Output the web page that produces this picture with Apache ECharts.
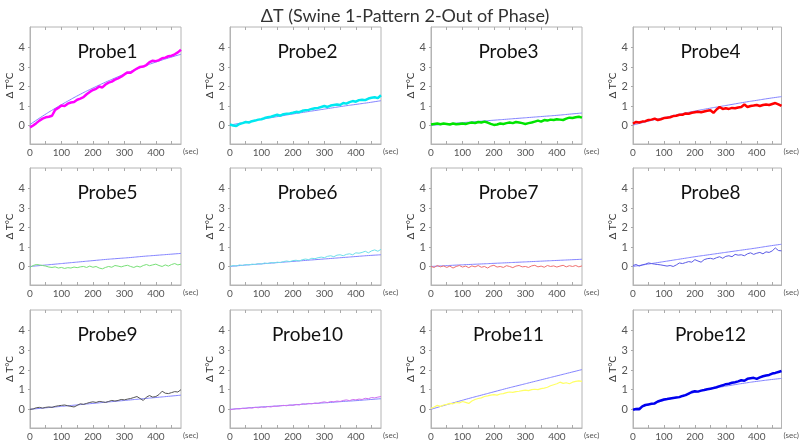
<!DOCTYPE html>
<html>
<head>
<meta charset="utf-8">
<script src="https://cdn.jsdelivr.net/npm/echarts@6/dist/echarts.min.js"></script>
<style>html,body{margin:0;padding:0;background:#fff}#c{width:800px;height:442px}</style>
</head>
<body>
<div id="c"></div>
<script>
const chartTitle = 'ΔT (Swine 1-Pattern 2-Out of Phase)';
const probeNames = ['Probe1','Probe2','Probe3','Probe4','Probe5','Probe6','Probe7','Probe8','Probe9','Probe10','Probe11','Probe12'];
const xTickLabels = [0,100,200,300,400];
const yTickLabels = [0,1,2,3,4];
const tSec = [0,10,20,30,40,50,60,70,80,90,100,110,120,130,140,150,160,170,180,190,200,210,220,230,240,250,260,270,280,290,300,310,320,330,340,350,360,370,380,390,400,410,420,430,440,450,460,470,480];
const tFit = [0,40,80,120,160,200,240,280,320,360,400,440,480];

const meas1 = [-0.1,0.0,0.12,0.25,0.35,0.42,0.45,0.5,0.8,0.9,1.02,1.0,1.12,1.18,1.2,1.32,1.38,1.45,1.6,1.72,1.82,1.88,2.0,1.95,2.1,2.2,2.25,2.35,2.42,2.5,2.62,2.72,2.7,2.82,2.92,3.0,3.02,3.1,3.25,3.32,3.3,3.35,3.45,3.48,3.55,3.58,3.65,3.75,3.88];
const meas2 = [0.05,0.0,-0.03,0.08,0.12,0.18,0.15,0.22,0.25,0.3,0.32,0.38,0.42,0.45,0.5,0.55,0.5,0.58,0.6,0.62,0.65,0.7,0.68,0.75,0.78,0.8,0.85,0.88,0.9,0.95,1.0,0.95,1.02,1.05,1.08,1.05,1.15,1.12,1.2,1.25,1.22,1.3,1.32,1.3,1.38,1.42,1.45,1.4,1.55];
const meas3 = [0.05,0.08,0.1,0.06,0.1,0.08,0.05,0.1,0.06,0.08,0.1,0.08,0.12,0.15,0.12,0.18,0.15,0.2,0.15,0.08,0.03,0.05,0.1,0.08,0.12,0.15,0.12,0.18,0.15,0.12,0.08,0.12,0.15,0.2,0.25,0.2,0.28,0.25,0.3,0.28,0.32,0.3,0.28,0.35,0.4,0.38,0.42,0.45,0.4];
const meas4 = [0.1,0.18,0.15,0.2,0.22,0.28,0.3,0.35,0.28,0.32,0.38,0.4,0.42,0.48,0.5,0.55,0.55,0.62,0.6,0.65,0.68,0.7,0.68,0.72,0.75,0.78,0.65,0.82,0.95,0.85,0.88,0.85,0.9,0.88,0.92,0.95,1.08,0.95,1.0,1.02,1.05,1.0,1.05,1.08,1.05,1.1,1.15,1.08,1.0];
const meas5 = [-0.05,0.05,0.1,0.08,0.05,0.02,-0.03,-0.05,-0.02,-0.08,-0.05,-0.1,-0.06,-0.08,-0.03,-0.06,-0.02,0.0,-0.05,0.02,-0.04,0.0,-0.08,-0.12,-0.05,0.0,-0.04,0.05,0.02,-0.02,0.03,0.06,0.0,-0.05,0.02,-0.03,0.05,0.1,0.04,0.08,0.12,0.05,0.0,0.08,0.02,0.1,0.15,0.08,0.12];
const meas6 = [0.0,0.05,0.02,0.08,0.05,0.1,0.08,0.12,0.1,0.15,0.12,0.18,0.15,0.2,0.18,0.22,0.2,0.25,0.28,0.25,0.3,0.32,0.28,0.35,0.38,0.35,0.42,0.4,0.45,0.48,0.45,0.52,0.55,0.5,0.58,0.6,0.55,0.62,0.65,0.6,0.7,0.68,0.72,0.78,0.7,0.8,0.85,0.78,0.88];
const meas7 = [0.0,-0.05,0.05,-0.02,0.03,-0.05,0.02,-0.08,0.0,0.05,-0.03,0.02,-0.06,0.03,-0.02,0.05,-0.04,0.0,-0.08,0.02,0.06,-0.03,0.0,-0.05,0.04,0.0,-0.06,0.02,0.05,-0.02,0.0,-0.05,0.03,0.06,-0.02,0.02,-0.04,0.05,0.0,0.03,-0.03,0.02,0.06,-0.02,0.04,0.0,0.05,-0.02,0.03];
const meas8 = [0.05,0.1,0.02,0.08,0.12,0.18,0.15,0.12,0.1,0.08,0.05,0.02,0.05,0.0,0.08,0.18,0.15,0.2,0.25,0.22,0.35,0.28,0.22,0.35,0.4,0.42,0.38,0.45,0.5,0.42,0.52,0.55,0.5,0.62,0.58,0.6,0.55,0.65,0.7,0.62,0.68,0.72,0.65,0.75,0.72,0.8,0.95,0.82,0.8];
const meas9 = [0.0,0.02,0.08,0.1,0.06,0.1,0.12,0.1,0.15,0.18,0.2,0.22,0.18,0.15,0.12,0.2,0.28,0.25,0.3,0.35,0.38,0.35,0.4,0.38,0.35,0.4,0.45,0.42,0.45,0.5,0.48,0.52,0.55,0.6,0.65,0.55,0.45,0.62,0.7,0.62,0.65,0.75,0.92,0.82,0.8,0.85,0.9,0.88,1.0];
const meas10 = [-0.02,0.0,0.03,0.02,0.05,0.04,0.08,0.06,0.1,0.08,0.12,0.1,0.14,0.12,0.16,0.15,0.18,0.2,0.18,0.22,0.2,0.25,0.22,0.28,0.26,0.3,0.28,0.32,0.3,0.35,0.38,0.34,0.4,0.38,0.42,0.4,0.45,0.48,0.44,0.5,0.48,0.52,0.5,0.56,0.54,0.6,0.58,0.62,0.65];
const meas11 = [0.05,0.12,0.2,0.15,0.22,0.25,0.3,0.28,0.35,0.32,0.4,0.35,0.3,0.42,0.5,0.55,0.58,0.65,0.68,0.72,0.75,0.72,0.78,0.8,0.85,0.88,0.86,0.9,0.92,0.95,0.98,0.95,1.0,1.02,1.0,1.05,1.08,1.12,1.2,1.25,1.3,1.38,1.32,1.35,1.3,1.38,1.42,1.45,1.42];
const meas12 = [-0.02,0.02,0.0,0.15,0.22,0.25,0.28,0.3,0.4,0.45,0.5,0.52,0.55,0.58,0.6,0.62,0.68,0.72,0.8,0.88,0.92,0.9,0.95,0.98,1.02,1.05,1.08,1.12,1.18,1.22,1.28,1.3,1.35,1.38,1.42,1.48,1.45,1.55,1.58,1.6,1.55,1.62,1.68,1.72,1.75,1.82,1.85,1.9,1.95];

const fit1 = [0.05,0.48,0.88,1.25,1.6,1.92,2.22,2.5,2.77,3.02,3.25,3.46,3.65];
const fit2 = [0.02,0.14,0.26,0.37,0.48,0.59,0.69,0.79,0.89,0.99,1.08,1.17,1.27];
const fit3 = [0.0,0.06,0.12,0.17,0.22,0.27,0.32,0.37,0.42,0.47,0.52,0.58,0.64];
const fit4 = [0.02,0.18,0.33,0.47,0.61,0.74,0.86,0.97,1.08,1.19,1.29,1.39,1.48];
const fit5 = [0.0,0.06,0.12,0.18,0.24,0.3,0.36,0.41,0.46,0.52,0.57,0.62,0.67];
const fit6 = [0.0,0.06,0.11,0.16,0.21,0.26,0.31,0.36,0.41,0.46,0.51,0.56,0.6];
const fit7 = [0.0,0.035,0.07,0.1,0.13,0.16,0.19,0.22,0.25,0.28,0.31,0.34,0.37];
const fit8 = [0.0,0.1,0.2,0.3,0.4,0.5,0.59,0.68,0.77,0.86,0.95,1.05,1.14];
const fit9 = [0.0,0.06,0.12,0.18,0.24,0.3,0.36,0.42,0.48,0.54,0.6,0.66,0.72];
const fit10 = [0.0,0.05,0.1,0.14,0.18,0.22,0.27,0.31,0.35,0.4,0.44,0.49,0.54];
const fit11 = [0.0,0.19,0.37,0.55,0.72,0.89,1.06,1.22,1.38,1.54,1.7,1.86,2.02];
const fit12 = [0.0,0.18,0.36,0.53,0.7,0.86,1.0,1.12,1.23,1.33,1.42,1.5,1.57];

const measured = [meas1,meas2,meas3,meas4,meas5,meas6,meas7,meas8,meas9,meas10,meas11,meas12];
const fits = [fit1,fit2,fit3,fit4,fit5,fit6,fit7,fit8,fit9,fit10,fit11,fit12];
const colors = ['#ff00ff','#00e8f0','#00e400','#ff0000','#77e077','#6ee0ea','#f07070','#5a5ae6','#555555','#d070f0','#ffff66','#0000ee'];
const widths = [2.5,2.5,2.5,2.5,1,1,1,1,1,1,1.2,2.5];

const colLeft = [30,230,431,633];
const rowTop = [27,168,310];
const rowH = [117,117,121];
const plotW = 151;
const FONT = 'Lato, "Open Sans", sans-serif';

const grids = [], xAxes = [], yAxes = [], series = [], titles = [];
titles.push({text: chartTitle, left: 400, top: 2, textAlign: 'center',
  textStyle: {fontSize: 18, fontWeight: 'normal', color: '#333', fontFamily: FONT}});
for (let i = 0; i < 12; i++) {
  const r = Math.floor(i / 4), c = i % 4;
  grids.push({left: colLeft[c], top: rowTop[r], width: plotW, height: rowH[r],
    show: true, borderColor: '#b4b4b4', borderWidth: 1, containLabel: false});
  xAxes.push({type: 'value', gridIndex: i, min: 0, max: 480, position: 'bottom',
    axisLine: {onZero: false, lineStyle: {color: '#b4b4b4'}},
    axisTick: {inside: true, length: 3, lineStyle: {color: '#aaa'}, customValues: [50,100,150,200,250,300,350,400,450]},
    axisLabel: {customValues: xTickLabels, color: '#555', fontSize: 10, margin: 4, fontFamily: FONT},
    splitLine: {show: false},
    name: '(sec)', nameLocation: 'end', nameGap: 2,
    nameTextStyle: {fontSize: 8, color: '#555', verticalAlign: 'top', padding: [3,0,0,0], fontFamily: FONT}});
  xAxes.push({type: 'value', gridIndex: i, min: 0, max: 480, position: 'top',
    axisLine: {show: false, onZero: false},
    axisTick: {inside: true, length: 3, lineStyle: {color: '#aaa'}, customValues: [50,100,150,200,250,300,350,400,450]},
    axisLabel: {show: false}, splitLine: {show: false}});
  yAxes.push({type: 'value', gridIndex: i, min: -0.95, max: 5.05, position: 'left',
    axisLine: {show: true, onZero: false, lineStyle: {color: '#b4b4b4'}},
    axisTick: {show: true, inside: false, length: 2, lineStyle: {color: '#aaa'}, customValues: yTickLabels},
    axisLabel: {customValues: yTickLabels, color: '#555', fontSize: 11, margin: 5, fontFamily: FONT},
    splitLine: {show: false},
    name: 'Δ T°C', nameLocation: 'middle', nameGap: 11,
    nameTextStyle: {fontSize: 10, color: '#333', fontFamily: FONT}});
  titles.push({text: probeNames[i], left: colLeft[c] + plotW / 2 - 3, top: rowTop[r] + 10, textAlign: 'center',
    textStyle: {fontSize: 19, fontWeight: 'normal', color: '#111', fontFamily: FONT}});
  series.push({type: 'line', xAxisIndex: 2 * i, yAxisIndex: i, smooth: true, showSymbol: false, silent: true,
    data: tFit.map((t, k) => [t, fits[i][k]]),
    lineStyle: {color: '#8484ff', width: 1}, z: 2});
  series.push({type: 'line', xAxisIndex: 2 * i, yAxisIndex: i, showSymbol: false, silent: true,
    data: tSec.map((t, k) => [t, measured[i][k]]),
    lineStyle: {color: colors[i], width: widths[i]}, z: 3});
}

const chart = echarts.init(document.getElementById('c'), null, {renderer: 'canvas'});
chart.setOption({animation: false, backgroundColor: '#fff', title: titles, grid: grids,
  xAxis: xAxes, yAxis: yAxes, series: series});
</script>
</body>
</html>
